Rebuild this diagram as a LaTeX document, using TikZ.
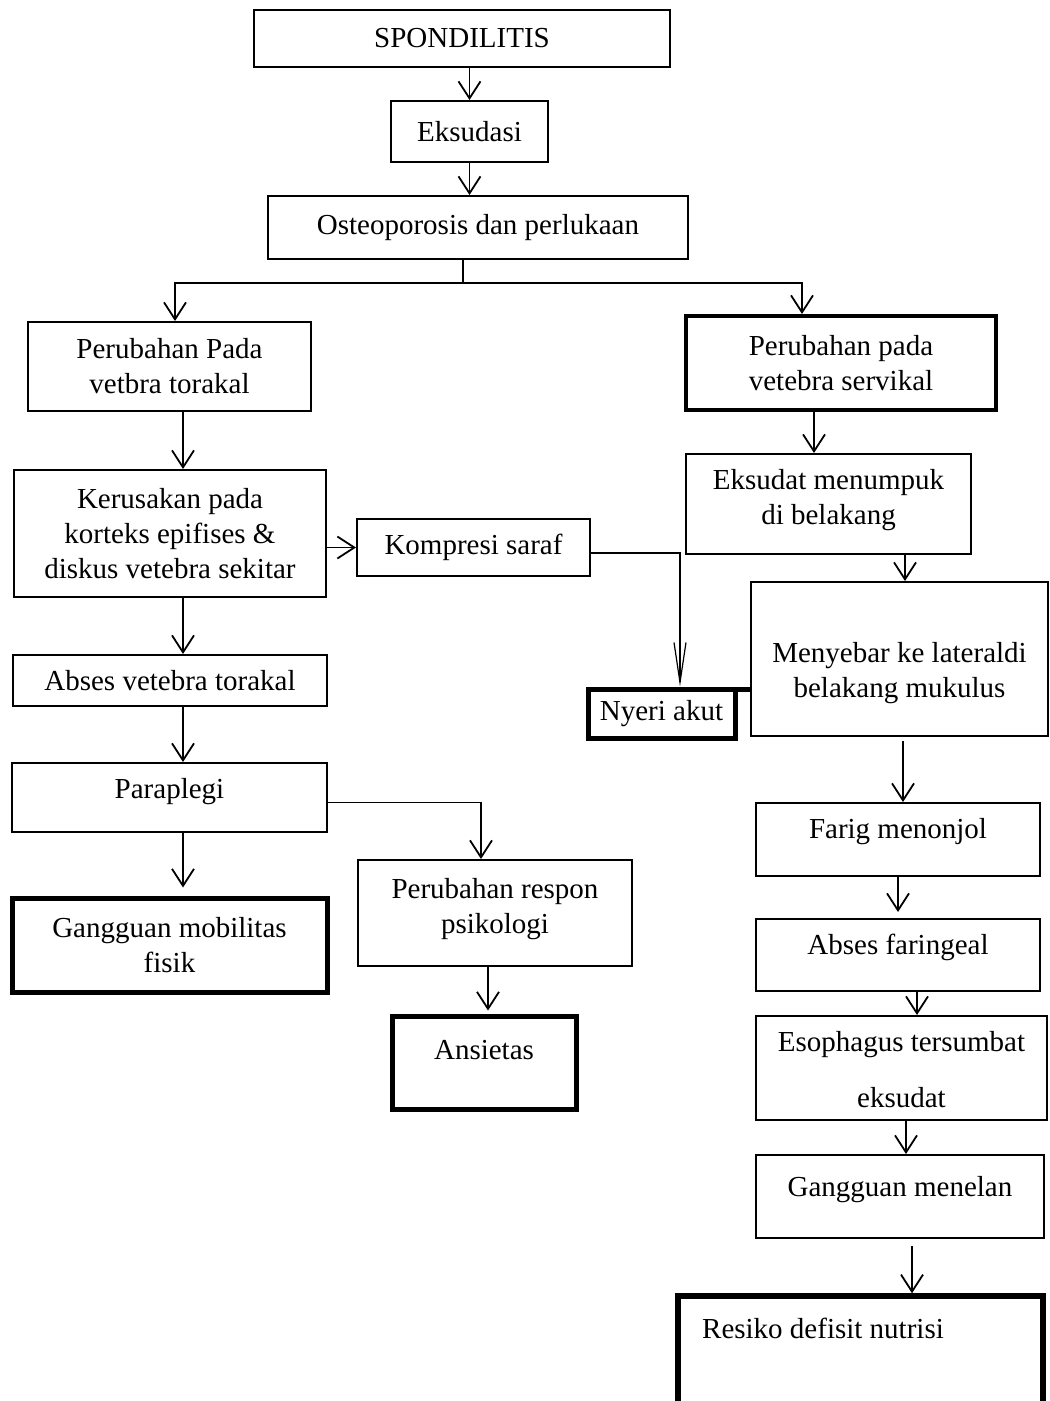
\documentclass[tikz,border=0pt]{standalone}
\usepackage{fontspec}
\setmainfont{Liberation Serif}
\usetikzlibrary{arrows.meta,calc}
\newcommand\lift[2]{\raisebox{#1}[\height][\depth]{\begin{tabular}{@{}c@{}}#2\end{tabular}}}
\begin{document}
\begin{tikzpicture}[x=1pt,y=-1pt,
  box/.style={draw, line width=2pt, rectangle, inner sep=2pt, align=center, font=\fontsize{29}{35}\selectfont},
  boldbox/.style={box, line width=5pt},
  lbl/.style={inner sep=0pt, font=\fontsize{29}{35}\selectfont},
  link/.style={line width=1.8pt},
  arr/.style={line width=1.8pt, -{Straight Barb[length=17pt,width=22pt]}},
  thinarr/.style={line width=1.2pt, -{Straight Barb[length=40pt,width=12pt]}}]
\useasboundingbox (0,0) rectangle (1050,1401);
\clip (0,0) rectangle (1050,1401);

% main column
\node[box, minimum width=416, minimum height=57] (spond) at (462,38.5) {SPONDILITIS};
\node[box, minimum width=157, minimum height=61] (eks) at (469.5,131.5) {Eksudasi};
\node[box, minimum width=420, minimum height=63] (osteo) at (478,227.5) {Osteoporosis dan perlukaan};

% left branch
\node[box, minimum width=283, minimum height=89] (ptor) at (169.5,366.5) {Perubahan Pada\\vetbra torakal};
\node[box, minimum width=312, minimum height=127] (kerus) at (170,533.5) {Kerusakan pada\\korteks epifises \&\\diskus vetebra sekitar};
\node[box, minimum width=233, minimum height=57] (komp) at (473.5,547.5) {Kompresi saraf};
\node[boldbox, minimum width=147, minimum height=49] (nyeri) at (661.5,713.5) {Nyeri akut};
\node[box, minimum width=314, minimum height=51] (absvt) at (170,680.5) {\lift{-3pt}{Abses vetebra torakal}};
\node[box, minimum width=315, minimum height=69] (parap) at (169.5,797.5) {\lift{6pt}{Paraplegi}};
\node[boldbox, minimum width=315, minimum height=94] (gmob) at (169.5,945) {Gangguan mobilitas\\fisik};
\node[box, minimum width=274, minimum height=106] (presp) at (495,913) {\lift{4pt}{Perubahan respon\\psikologi}};
\node[boldbox, minimum width=184, minimum height=93] (ans) at (484,1062.5) {\lift{10pt}{Ansietas}};

% right branch
\node[boldbox, line width=4pt, minimum width=310, minimum height=94] (pserv) at (841,363) {Perubahan pada\\vetebra servikal};
\node[box, minimum width=285, minimum height=100] (eksm) at (828.5,504) {\lift{4pt}{Eksudat menumpuk\\di belakang}};
\node[box, minimum width=297, minimum height=154] (meny) at (899.5,659) {\lift{-14pt}{Menyebar ke lateraldi\\belakang mukulus}};
\node[box, minimum width=284, minimum height=73] (farig) at (898,839.5) {\lift{8pt}{Farig menonjol}};
\node[box, minimum width=284, minimum height=72] (absf) at (898,955) {\lift{8pt}{Abses faringeal}};
\node[box, minimum width=291, minimum height=104] (esoph) at (901.5,1068) {\lift{-4pt}{Esophagus tersumbat\\[21pt]eksudat}};
\node[box, minimum width=288, minimum height=83] (gmen) at (900,1196.5) {\lift{7pt}{Gangguan menelan}};
\node[boldbox, line width=5.5pt, minimum width=365, minimum height=134] (res) at (860.5,1363) {};
\node[lbl] (restxt) at (823,1328) {Resiko defisit nutrisi};

% connectors
\draw[arr] (spond.south -| eks.north) -- (eks.north);
\draw[arr] (eks.south) -- (eks.south |- osteo.north);
\coordinate (br) at (463,283);
\draw[link] (osteo.south -| br) -- (br);
\draw[arr] (br) -| ([xshift=5.5pt]ptor.north);
\draw[arr] (br) -| ([xshift=-39pt]pserv.north);

\draw[arr] ([xshift=13.5pt]ptor.south) -- ([xshift=13.5pt]ptor.south |- kerus.north);
\draw[arr] (komp.west -| kerus.east) -- (komp.west);
\draw[thinarr] ([yshift=-5.5pt]komp.east) -| ([xshift=18.5pt]nyeri.north);
\draw[line width=5pt] ([yshift=-3pt]nyeri.north east) -- ([yshift=-3pt]nyeri.north east -| meny.west);
\draw[arr] ([xshift=13pt]kerus.south) -- ([xshift=13pt]kerus.south |- absvt.north);
\draw[arr] ([xshift=13pt]absvt.south) -- ([xshift=13pt]absvt.south |- parap.north);
\draw[arr] ([xshift=13.5pt]parap.south) -- ([xshift=13.5pt,yshift=8pt]parap.south |- gmob.north);
\draw[arr] ([yshift=-5pt]parap.east) -| ([xshift=-14pt]presp.north);
\draw[arr] ([xshift=-7pt]presp.south) -- ([xshift=-7pt,yshift=3pt]presp.south |- ans.north);

\draw[arr] ([xshift=-27pt]pserv.south) -- ([xshift=-27pt]pserv.south |- eksm.north);
\draw[arr] ([xshift=76.5pt]eksm.south) -- ([xshift=76.5pt]eksm.south |- meny.north);
\draw[arr] ([xshift=3.5pt,yshift=-4pt]meny.south) -- ([xshift=3.5pt]meny.south |- farig.north);
\draw[arr] (farig.south) -- ([yshift=6pt]farig.south |- absf.north);
\draw[arr] ([xshift=19pt]absf.south) -- ([xshift=19pt]absf.south |- esoph.north);
\draw[arr] ([xshift=4.5pt]esoph.south) -- ([xshift=4.5pt]esoph.south |- gmen.north);
\draw[arr] ([xshift=12pt,yshift=-7pt]gmen.south) -- ([xshift=12pt]gmen.south |- res.north);
\end{tikzpicture}
\end{document}
